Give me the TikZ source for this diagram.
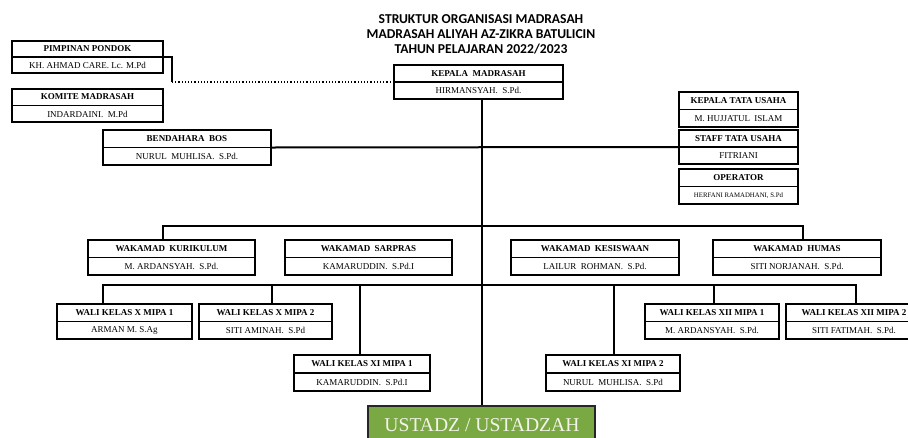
\documentclass[tikz,border=0pt]{standalone}
\usepackage{fontspec}
\setmainfont{Liberation Serif}
\newfontfamily\headfont{Carlito}
\usetikzlibrary{fit,calc}
\definecolor{ustgreen}{RGB}{122,168,66}
\definecolor{usttext}{RGB}{242,244,232}
\tikzset{
  boxframe/.style={draw=black, line width=1.6pt, inner sep=0pt, fill=white},
  divline/.style={line width=1.2pt},
  titletext/.style={font=\fontsize{9}{10}\selectfont\bfseries, inner sep=0pt},
  nametext/.style={font=\fontsize{9}{10}\selectfont, inner sep=0pt},
  headtext/.style={font=\headfont\fontsize{13.6}{15}\selectfont\bfseries, inner sep=0pt},
  conn/.style={line width=2.2pt},
  spineline/.style={line width=1.5pt},
  dotconn/.style={line width=1.2pt, dotted},
}
\newcommand\orgbox[7]{%
  \coordinate (#1-nw) at (#2,#3);
  \coordinate (#1-se) at (#4,#5);
  \node[boxframe, fit=(#1-nw)(#1-se)] (#1) {};
  \draw[divline] (#1.west) -- (#1.east);
  \node[titletext] (#1-t) at ($(#1.north)!0.5!(#1.center)$) {#6};
  \node[nametext] (#1-n) at ($(#1.south)!0.5!(#1.center)$) {#7};
}
\begin{document}
\begin{tikzpicture}[x=1pt,y=-1pt]
\useasboundingbox (0,0) rectangle (908,437);
\clip (0,0) rectangle (908,437);
\fill[white] (0,0) rectangle (908,437);

% title
\node[headtext] (h1) at (481,19) {STRUKTUR ORGANISASI MADRASAH};
\node[headtext] (h2) at (481,34) {MADRASAH ALIYAH AZ-ZIKRA BATULICIN};
\node[headtext] (h3) at (481,49) {TAHUN PELAJARAN 2022/2023};

% coordinates for connectors
\coordinate (spTop) at (482,99);
\coordinate (b1L) at (163,226);
\coordinate (b1R) at (803,226);
\coordinate (b2L) at (103,285);
\coordinate (b2R) at (856,285);
\coordinate (ppK) at (172,57);

% boxes
\orgbox{pp}{12}{41}{163}{73}{PIMPINAN PONDOK}{KH. AHMAD CARE. Lc. M.Pd}
\orgbox{kom}{12}{89}{163}{122}{KOMITE MADRASAH}{INDARDAINI.\ \ M.Pd}
\orgbox{km}{394}{65}{563}{99}{KEPALA\ \ MADRASAH}{HIRMANSYAH.\ \ S.Pd.}
\orgbox{bd}{103}{130}{271}{165}{BENDAHARA\ \ BOS}{NURUL\ \ MUHLISA.\ \ S.Pd.}
\orgbox{ktu}{679}{92}{798}{127}{KEPALA TATA USAHA}{M. HUJJATUL\ \ ISLAM}
\orgbox{stu}{679}{130}{798}{164}{STAFF TATA USAHA}{FITRIANI}
\orgbox{op}{679}{169}{798}{204}{OPERATOR}{\fontsize{6.8}{7}\selectfont HERFANI RAMADHANI, S.Pd}

% US box
\coordinate (us-nw) at (368,406);
\coordinate (us-se) at (595,450);
\node[draw=black!85, line width=1.6pt, fill=ustgreen, inner sep=0pt, fit=(us-nw)(us-se)] (us) {};
\node[font=\fontsize{19.6}{21}\selectfont, text=usttext, inner sep=0pt] (us-t) at (482,425) {USTADZ / USTADZAH};

% connectors
\draw[conn, line width=1.6pt] (pp.east) -- (ppK) -- (ppK |- km.west);
\draw[dotconn] (ppK |- km.west) -- (km.west);
\draw[spineline] (spTop) -- (spTop |- us.north);
\draw[conn, line width=2pt] (bd.east) -- (stu.west);
\draw[conn] (b1L |- 0,240) -- (b1L) -- (b1R) -- (b1R |- 0,240);
\draw[conn] (b2L |- 0,304) -- (b2L) -- (b2R) -- (b2R |- 0,304);
\draw[conn, line width=1.6pt] (272,285) -- (272,304);
\draw[conn, line width=1.6pt] (360,285) -- (360,355);
\draw[conn, line width=1.6pt] (614,285) -- (614,355);
\draw[conn, line width=1.6pt] (714,285) -- (714,304);

% second tier
\orgbox{wk}{88}{240}{255}{275}{WAKAMAD\ \ KURIKULUM}{M. ARDANSYAH.\ \ S.Pd.}
\orgbox{ws}{285}{240}{452}{275}{WAKAMAD\ \ SARPRAS}{KAMARUDDIN.\ \ S.Pd.I}
\orgbox{wks}{511}{240}{679}{275}{WAKAMAD\ \ KESISWAAN}{LAILUR\ \ ROHMAN.\ \ S.Pd.}
\orgbox{wh}{713}{240}{881}{275}{WAKAMAD\ \ HUMAS}{SITI NORJANAH.\ \ S.Pd.}

% third tier
\orgbox{x1}{57}{304}{192}{339}{WALI KELAS X MIPA 1}{ARMAN M. S.Ag}
\orgbox{x2}{199}{304}{332}{339}{WALI KELAS X MIPA 2}{SITI AMINAH.\ \ S.Pd}
\orgbox{xii1}{645}{304}{779}{339}{WALI KELAS XII MIPA 1}{M. ARDANSYAH.\ \ S.Pd.}
\orgbox{xii2}{786}{304}{922}{339}{WALI KELAS XII MIPA 2}{SITI FATIMAH.\ \ S.Pd.}
\orgbox{xi1}{294}{355}{430}{391}{WALI KELAS XI MIPA 1}{KAMARUDDIN.\ \ S.Pd.I}
\orgbox{xi2}{546}{355}{680}{391}{WALI KELAS XI MIPA 2}{NURUL\ \ MUHLISA.\ \ S.Pd}
\end{tikzpicture}
\end{document}
